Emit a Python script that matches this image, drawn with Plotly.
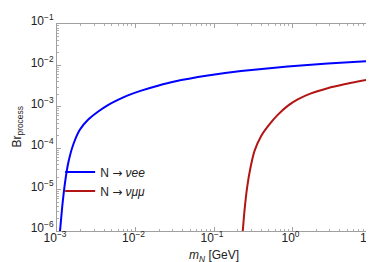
import plotly.graph_objects as go

# N -> nu e e  (m_N in GeV, branching ratio)
m_ee = [1.092e-3, 1.168e-3, 1.264e-3, 1.392e-3, 1.612e-3, 1.962e-3, 2.501e-3, 3.353e-3,
        4.455e-3, 5.97e-3, 8.00e-3, 1.182e-2, 1.928e-2, 3.145e-2, 8.34e-2, 0.2212,
        0.8687, 2.804, 10.0]
br_ee = [1.0e-6, 4.01e-6, 1.46e-5, 4.44e-5, 1.23e-4, 2.82e-4, 4.92e-4, 7.71e-4,
         1.10e-3, 1.47e-3, 1.886e-3, 2.46e-3, 3.23e-3, 4.08e-3, 5.69e-3, 7.31e-3,
         9.39e-3, 1.109e-2, 1.274e-2]

# N -> nu mu mu
m_mm = [0.2325, 0.2443, 0.2637, 0.2913, 0.3276, 0.3973, 0.5082, 0.6480, 0.8687,
        1.165, 1.720, 2.804, 4.574, 10.0]
br_mm = [1.0e-6, 3.035e-6, 1.107e-5, 3.364e-5, 8.51e-5, 1.956e-4, 3.767e-4, 6.385e-4,
         1.053e-3, 1.510e-3, 2.107e-3, 2.812e-3, 3.492e-3, 4.664e-3]

arrow = "<span style='font-family:DejaVu Sans'>→</span>"
names = ["N " + arrow + " <i>νee</i>", "N " + arrow + " <i>νμμ</i>"]
colors = ["#0000ff", "#b31414"]

x_title = "<i>m</i><sub><i>N</i></sub> [GeV]"
y_title = "Br<sub>process</sub>"

x_tickvals = [1e-3, 1e-2, 1e-1, 1e0, 1e1]
x_ticktext = ["10<sup>−3</sup>", "10<sup>−2</sup>", "10<sup>−1</sup>", "10<sup>0</sup>", "10<sup>1</sup>"]
y_tickvals = [1e-6, 1e-5, 1e-4, 1e-3, 1e-2, 1e-1]
y_ticktext = ["10<sup>−6</sup>", "10<sup>−5</sup>", "10<sup>−4</sup>", "10<sup>−3</sup>",
              "10<sup>−2</sup>", "10<sup>−1</sup>"]

x_minor = [k * 10.0 ** e for e in range(-3, 1) for k in range(2, 10)]
y_minor = [k * 10.0 ** e for e in range(-6, -1) for k in range(2, 10)]

fig = go.Figure()
fig.add_trace(go.Scatter(x=m_ee, y=br_ee, mode="lines", name=names[0],
                         line=dict(color=colors[0], width=2, shape="spline", smoothing=0.5)))
fig.add_trace(go.Scatter(x=m_mm, y=br_mm, mode="lines", name=names[1],
                         line=dict(color=colors[1], width=2, shape="spline", smoothing=0.5)))

axis_common = dict(
    type="log", showgrid=False, zeroline=False, automargin=False,
    showline=True, linecolor="#a0a0a0", linewidth=1, mirror="ticks",
    ticks="inside", ticklen=4, tickcolor="#a0a0a0", tickmode="array",
    tickfont=dict(family="Liberation Sans, Arial", size=12, color="#222"),
)

fig.update_layout(
    width=374, height=262,
    margin=dict(l=49, r=11, t=16, b=39),
    paper_bgcolor="white", plot_bgcolor="white",
    font=dict(family="Liberation Sans, Arial", size=12, color="#222"),
    xaxis=dict(axis_common, range=[-3, 1], tickvals=x_tickvals, ticktext=x_ticktext,
               ticklabelstandoff=-4, ticklabelshift=-2,
               minor=dict(tickmode="array", tickvals=x_minor, ticks="inside", ticklen=2,
                          tickcolor="#b0b0b0", showgrid=False)),
    yaxis=dict(axis_common, range=[-6, -1], tickvals=y_tickvals, ticktext=y_ticktext,
               ticklabelshift=-3,
               minor=dict(tickmode="array", tickvals=y_minor, ticks="inside", ticklen=2,
                          tickcolor="#b0b0b0", showgrid=False)),
    legend=dict(x=0.01, y=0.355, xanchor="left", yanchor="top",
                bgcolor="rgba(0,0,0,0)", itemwidth=30, tracegroupgap=0,
                font=dict(size=12, color="#222")),
    showlegend=True,
    annotations=[
        dict(text=x_title, xref="paper", yref="paper", x=0.5, y=0, xanchor="center",
             yanchor="top", yshift=-15, showarrow=False, font=dict(size=12)),
        dict(text=y_title, xref="paper", yref="paper", x=0, y=0.5, xanchor="center",
             yanchor="middle", xshift=-40, textangle=-90, showarrow=False,
             font=dict(size=12)),
    ],
)

fig.write_html("out.html")
